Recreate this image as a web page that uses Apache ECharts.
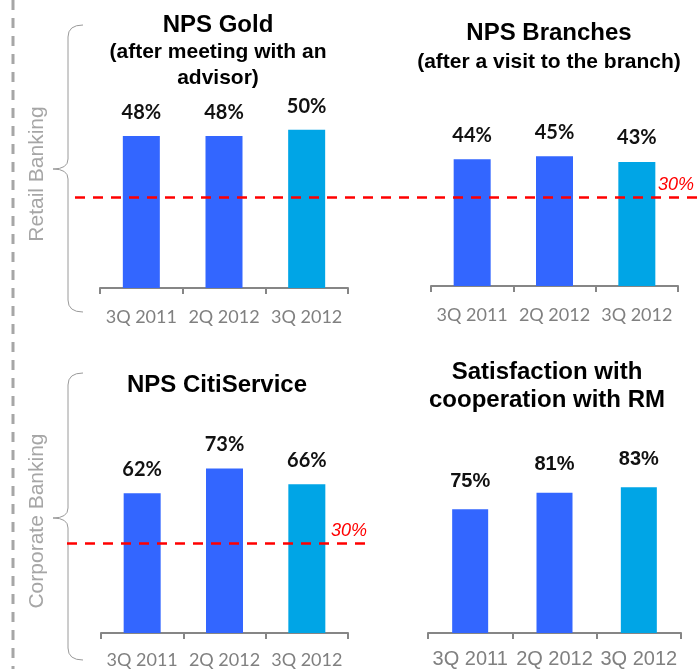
<!DOCTYPE html>
<html>
<head>
<meta charset="utf-8">
<script src="https://cdn.jsdelivr.net/npm/echarts@6/dist/echarts.min.js"></script>
<style>
  html, body { margin: 0; padding: 0; background: #fff; }
  #chart { width: 697px; height: 669px; }
</style>
</head>
<body>
<div id="chart"></div>
<script>
const categories = ['3Q 2011', '2Q 2012', '3Q 2012']
const npsGold = [48, 48, 50]
const npsBranches = [44, 45, 43]
const npsCitiService = [62, 73, 66]
const rmSatisfaction = [75, 81, 83]
const benchmark = 30
const barColors = ['#3366FF', '#3366FF', '#00A5E6']

const H = 669
const calibriLike = 'Lato, "Open Sans", sans-serif'
const arial = '"Liberation Sans", Arial, sans-serif'

// one panel = grid + axes + bar series
const panels = [
  { data: npsGold, left: 100, width: 248, top: 98, bottom: 288, min: 0, max: 60, barWidth: 37, font: calibriLike, labelDist: 13, labelSize: 20, axisSize: 18, axisMargin: 20 },
  { data: npsBranches, left: 431, width: 247, top: 113, bottom: 286, min: 0, max: 60, barWidth: 37, font: calibriLike, labelDist: 14, labelSize: 20, axisSize: 18, axisMargin: 20 },
  { data: npsCitiService, left: 101, width: 247, top: 407.5, bottom: 633, min: 0, max: 100, barWidth: 37, font: calibriLike, labelDist: 14, labelSize: 20, axisSize: 18, axisMargin: 18 },
  { data: rmSatisfaction, left: 428, width: 253, top: 468, bottom: 633, min: 30, max: 90, barWidth: 36, font: arial, labelDist: 18, labelSize: 20, axisSize: 20, axisMargin: 16 }
]

// hidden grids that only carry the red 30% benchmark line
const benchLines = [
  { left: 75, width: 625, top: 167 },
  { left: 67, width: 303, top: 513 }
]

const grid = []
const xAxis = []
const yAxis = []
const series = []

panels.forEach((p, i) => {
  grid.push({ left: p.left, width: p.width, top: p.top, height: p.bottom - p.top })
  xAxis.push({
    type: 'category',
    gridIndex: i,
    data: categories,
    axisLine: { lineStyle: { color: '#868686', width: 2 } },
    axisTick: { show: true, length: 6, lineStyle: { color: '#868686', width: 2 } },
    axisLabel: { color: '#808080', fontFamily: p.font, fontSize: p.axisSize, margin: p.axisMargin, interval: 0 }
  })
  yAxis.push({ type: 'value', gridIndex: i, min: p.min, max: p.max, show: false, splitLine: { show: false } })
  series.push({
    type: 'bar',
    xAxisIndex: i,
    yAxisIndex: i,
    barWidth: p.barWidth,
    data: p.data.map((v, j) => ({ value: v, itemStyle: { color: barColors[j] } })),
    label: {
      show: true,
      position: 'top',
      distance: p.labelDist,
      formatter: '{c}%',
      color: '#111',
      fontWeight: 'bold',
      fontFamily: p.font,
      fontSize: p.labelSize
    },
    silent: true
  })
})

benchLines.forEach((b, k) => {
  const idx = panels.length + k
  grid.push({ left: b.left, width: b.width, top: b.top, height: 60 })
  xAxis.push({ type: 'value', gridIndex: idx, min: 0, max: 1, show: false })
  yAxis.push({ type: 'value', gridIndex: idx, min: 0, max: 60, show: false, splitLine: { show: false } })
  series.push({
    type: 'line',
    xAxisIndex: idx,
    yAxisIndex: idx,
    data: [],
    markLine: {
      silent: true,
      symbol: 'none',
      data: [{ yAxis: benchmark }],
      lineStyle: { color: '#FF0000', type: [10, 8], width: 2.5 },
      label: {
        position: 'insideEndTop',
        distance: 3,
        formatter: () => benchmark + '%',
        color: '#FF0000',
        fontStyle: 'italic',
        fontFamily: arial,
        fontSize: 18
      }
    }
  })
})

const titleStyle = (size) => ({ fontFamily: arial, fontWeight: 'bold', fontSize: size, color: '#000', lineHeight: 26 })
const titles = [
  { text: 'NPS Gold', x: 218, y: 25, size: 24 },
  { text: '(after meeting with an\nadvisor)', x: 218, y: 52, size: 21 },
  { text: 'NPS Branches', x: 549, y: 33, size: 24 },
  { text: '(after a visit to the branch)', x: 549, y: 62, size: 21 },
  { text: 'NPS CitiService', x: 217, y: 385, size: 24 },
  { text: 'Satisfaction with\ncooperation with RM', x: 547, y: 372, size: 24, lh: 28 }
]

// left curly brace built from lines and quadratic curves
const braceColor = '#9A9A9A'
const brace = (top, mid, bottom) => {
  const st = { stroke: braceColor, fill: 'none', lineWidth: 1 }
  const parts = [
    { type: 'bezierCurve', shape: { x1: 83, y1: top, cpx1: 68, cpy1: top, x2: 68, y2: top + 12 } },
    { type: 'line', shape: { x1: 68, y1: top + 12, x2: 68, y2: mid - 10 } },
    { type: 'bezierCurve', shape: { x1: 68, y1: mid - 10, cpx1: 68, cpy1: mid, x2: 53, y2: mid } },
    { type: 'bezierCurve', shape: { x1: 53, y1: mid, cpx1: 68, cpy1: mid, x2: 68, y2: mid + 10 } },
    { type: 'line', shape: { x1: 68, y1: mid + 10, x2: 68, y2: bottom - 12 } },
    { type: 'bezierCurve', shape: { x1: 68, y1: bottom - 12, cpx1: 68, cpy1: bottom, x2: 83, y2: bottom } }
  ]
  return parts.map(pt => Object.assign(pt, { style: st, silent: true }))
}

const chart = echarts.init(document.getElementById('chart'))
chart.setOption({
  backgroundColor: '#fff',
  animation: false,
  title: titles.map(t => ({
    text: t.text,
    left: t.x,
    top: t.y - (t.lh || 26) / 2,
    textAlign: 'center',
    padding: 0,
    textStyle: Object.assign(titleStyle(t.size), { lineHeight: t.lh || 26 })
  })),
  grid,
  xAxis,
  yAxis,
  series,
  graphic: [
    {
      type: 'line',
      shape: { x1: 13, y1: 0, x2: 13, y2: H },
      style: { stroke: '#A6A6A6', lineWidth: 3, lineDash: [10, 8] },
      silent: true
    },
    ...brace(25, 169, 312),
    ...brace(373, 518, 660),
    {
      type: 'text',
      x: 37,
      y: 174,
      rotation: Math.PI / 2,
      style: { text: 'Retail Banking', align: 'center', verticalAlign: 'middle', fill: '#A6A6A6', fontSize: 21, fontFamily: arial },
      silent: true
    },
    {
      type: 'text',
      x: 37,
      y: 521,
      rotation: Math.PI / 2,
      style: { text: 'Corporate Banking', align: 'center', verticalAlign: 'middle', fill: '#A6A6A6', fontSize: 21, fontFamily: arial },
      silent: true
    }
  ]
})
</script>
</body>
</html>
